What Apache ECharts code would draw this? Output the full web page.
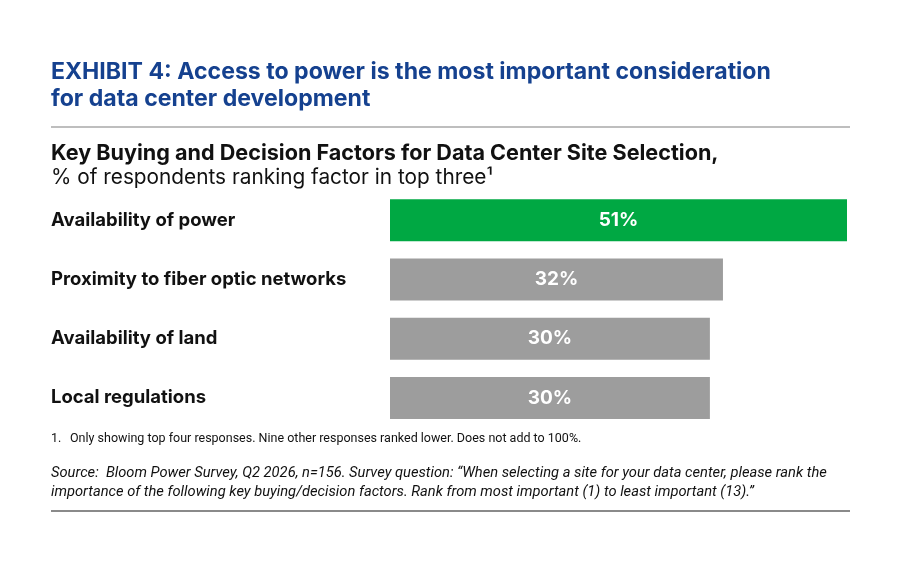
<!DOCTYPE html>
<html>
<head>
<meta charset="utf-8">
<script src="https://cdn.jsdelivr.net/npm/echarts@6/dist/echarts.min.js"></script>
<style>
  html, body { margin: 0; padding: 0; background: #fff; }
  #chart { width: 900px; height: 570px; }
</style>
</head>
<body>
<div id="chart"></div>
<script>
// 数据
var factors = ["Availability of power", "Proximity to fiber optic networks", "Availability of land", "Local regulations"];
var shares = [51, 32, 30, 30];
var barColors = ["#00a843", "#9d9d9d", "#9d9d9d", "#9d9d9d"];

var myChart = echarts.init(document.getElementById("chart"));

var option = {
  backgroundColor: "#fff",
  textStyle: { fontFamily: "Inter" },
  title: [
    {
      text: "EXHIBIT 4: Access to power is the most important consideration\nfor data center development",
      left: 46,
      top: 54,
      textStyle: { color: "#15418f", fontSize: 23.1, fontWeight: "bold", lineHeight: 27, fontFamily: "Inter" }
    },
    {
      text: "Key Buying and Decision Factors for Data Center Site Selection,",
      left: 46,
      top: 137,
      textStyle: { color: "#111", fontSize: 21.6, fontWeight: "bold", fontFamily: "Inter" }
    },
    {
      text: "% of respondents ranking factor in top three¹",
      left: 46,
      top: 162,
      textStyle: { color: "#111", fontSize: 20.8, fontWeight: "normal", fontFamily: "Inter" }
    }
  ],
  graphic: [
    { type: "line", shape: { x1: 51, y1: 127, x2: 850, y2: 127 }, style: { stroke: "#a8a8a8", lineWidth: 1.5 } },
    { type: "line", shape: { x1: 51, y1: 511, x2: 850, y2: 511 }, style: { stroke: "#8a8a8a", lineWidth: 2 } },
    { type: "text", left: 51, top: 432, style: { text: "1.", fill: "#111", font: "12.5px Roboto" } },
    { type: "text", left: 70, top: 432, style: { text: "Only showing top four responses. Nine other responses ranked lower. Does not add to 100%.", fill: "#111", font: "12.5px Roboto" } },
    { type: "text", left: 51, top: 464, style: {
        text: "Source:  Bloom Power Survey, Q2 2026, n=156. Survey question: \u201cWhen selecting a site for your data center, please rank the\nimportance of the following key buying/decision factors. Rank from most important (1) to least important (13).\u201d",
        fill: "#111", font: "italic 14.7px Roboto", lineHeight: 19 } }
  ],
  grid: { left: 390, right: 53, top: 190.5, bottom: 142.5, containLabel: false },
  xAxis: {
    type: "value",
    min: -19,
    max: 51,
    startValue: -19,
    show: false
  },
  yAxis: {
    type: "category",
    data: factors,
    inverse: true,
    axisLine: { show: false },
    axisTick: { show: false },
    axisLabel: {
      align: "left",
      margin: 339,
      color: "#111",
      fontSize: 18.5,
      fontWeight: "bold",
      fontFamily: "Inter"
    }
  },
  series: [
    {
      type: "bar",
      barWidth: 42,
      data: shares.map(function (v, i) {
        return { value: v, itemStyle: { color: barColors[i] } };
      }),
      label: {
        show: true,
        position: "inside",
        formatter: "{c}%",
        color: "#fff",
        fontSize: 19,
        fontWeight: "bold",
        fontFamily: "Inter"
      },
      silent: true
    }
  ]
};

myChart.setOption(option);
</script>
</body>
</html>
